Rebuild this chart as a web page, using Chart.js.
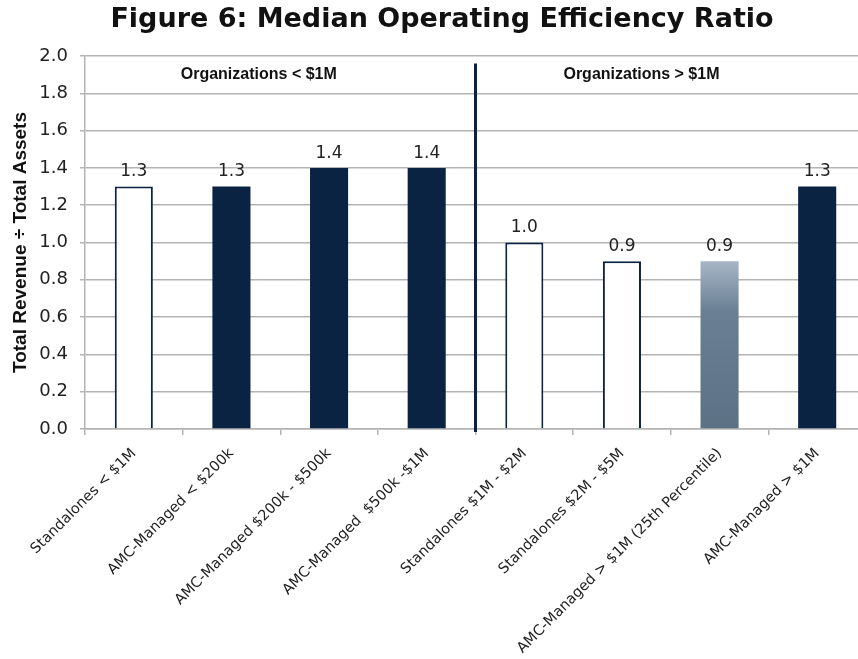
<!DOCTYPE html>
<html>
<head>
<meta charset="utf-8">
<script src="https://cdn.jsdelivr.net/npm/chart.js@4"></script>
<style>
  html, body { margin: 0; padding: 0; background: #fff; overflow: hidden; }
</style>
</head>
<body>
<canvas id="chart" width="884" height="659"></canvas>
<script>
const chartTitle = "Figure 6: Median Operating Efficiency Ratio";
const categories = [
  "Standalones < $1M",
  "AMC-Managed < $200k",
  "AMC-Managed $200k - $500k",
  "AMC-Managed  $500k -$1M",
  "Standalones $1M - $2M",
  "Standalones $2M - $5M",
  "AMC-Managed > $1M (25th Percentile)",
  "AMC-Managed > $1M"
];
const ratios = [1.3, 1.3, 1.4, 1.4, 1.0, 0.9, 0.9, 1.3];
const barStyles = ["outline", "solid", "solid", "solid", "outline", "outline", "gradient", "solid"];
const groupLabels = ["Organizations < $1M", "Organizations > $1M"];
const yTicks = [0, 0.2, 0.4, 0.6, 0.8, 1.0, 1.2, 1.4, 1.6, 1.8, 2.0];

const NAVY = "#0b2343";

function fillFor(ctx) {
  const style = barStyles[ctx.dataIndex];
  if (style === "solid") return NAVY;
  if (style === "outline") return "#ffffff";
  const chart = ctx.chart;
  if (!chart.chartArea) return "#64788c";
  const y = chart.scales.y;
  const top = y.getPixelForValue(ratios[ctx.dataIndex]);
  const bottom = y.getPixelForValue(0);
  const g = chart.ctx.createLinearGradient(0, top, 0, bottom);
  g.addColorStop(0, "#a7b6c7");
  g.addColorStop(0.3, "#6a7f93");
  g.addColorStop(1, "#5d7185");
  return g;
}

const overlay = {
  id: "overlay",
  afterDatasetsDraw(chart) {
    const { ctx, scales: { x, y } } = chart;
    ctx.save();
    // title (centred on the original figure, not on the cropped canvas)
    ctx.font = "bold 27px 'DejaVu Sans'";
    ctx.fillStyle = "#111";
    ctx.textAlign = "center";
    ctx.textBaseline = "middle";
    ctx.fillText(chartTitle, 442, 20);
    // value labels
    ctx.font = "17px 'DejaVu Sans'";
    ctx.fillStyle = "#222";
    ctx.textBaseline = "bottom";
    ratios.forEach((v, i) => {
      ctx.fillText(v.toFixed(1), x.getPixelForValue(i), y.getPixelForValue(v) - 6);
    });
    // group divider
    const dx = x.getPixelForValue(3.5);
    ctx.strokeStyle = NAVY;
    ctx.lineWidth = 3;
    ctx.beginPath();
    ctx.moveTo(dx, y.getPixelForValue(1.96));
    ctx.lineTo(dx, y.getPixelForValue(0) + 3);
    ctx.stroke();
    // group labels
    ctx.font = "bold 16px 'Liberation Sans', Arial, sans-serif";
    ctx.fillStyle = "#111";
    ctx.textBaseline = "middle";
    ctx.fillText(groupLabels[0], x.getPixelForValue(1.28), y.getPixelForValue(1.9));
    ctx.fillText(groupLabels[1], x.getPixelForValue(5.2), y.getPixelForValue(1.9));
    ctx.restore();
  }
};

new Chart(document.getElementById("chart").getContext("2d"), {
  type: "bar",
  data: {
    labels: categories,
    datasets: [{
      data: ratios,
      backgroundColor: fillFor,
      borderColor: ctx => barStyles[ctx.dataIndex] === "outline" ? NAVY : "rgba(0,0,0,0)",
      borderWidth: ctx => barStyles[ctx.dataIndex] === "outline" ? 2 : 0,
      borderSkipped: "bottom",
      categoryPercentage: 1,
      barPercentage: 0.39
    }]
  },
  options: {
    responsive: false,
    animation: false,
    layout: { padding: { top: 56, right: 18 } },
    plugins: {
      legend: { display: false },
      tooltip: { enabled: false },
      title: { display: false }
    },
    scales: {
      y: {
        min: 0,
        max: 2,
        afterFit(scale) { scale.width = 85; },
        afterBuildTicks(scale) { scale.ticks = yTicks.map(v => ({ value: v })); },
        ticks: {
          color: "#222",
          font: { family: "'DejaVu Sans'", size: 18 },
          padding: 12,
          callback: v => Number(v).toFixed(1)
        },
        grid: { color: "#b4b4b4", lineWidth: 1.5, tickLength: 5 },
        border: { color: "#b4b4b4", width: 1.5 },
        title: {
          display: true,
          text: "Total Revenue ÷ Total Assets",
          color: "#111",
          font: { family: "'Liberation Sans', Arial, sans-serif", size: 19, weight: "bold" },
          padding: { top: 9, bottom: 0 }
        }
      },
      x: {
        afterFit(scale) { scale.height = 230; },
        ticks: {
          color: "#222",
          font: { family: "'DejaVu Sans'", size: 14.5 },
          minRotation: 45,
          maxRotation: 45,
          autoSkip: false,
          padding: 10
        },
        grid: { drawOnChartArea: false, drawTicks: true, tickLength: 6, color: "#b4b4b4", lineWidth: 1.5 },
        border: { color: "#b4b4b4", width: 1.5 }
      }
    }
  },
  plugins: [overlay]
});
</script>
</body>
</html>
